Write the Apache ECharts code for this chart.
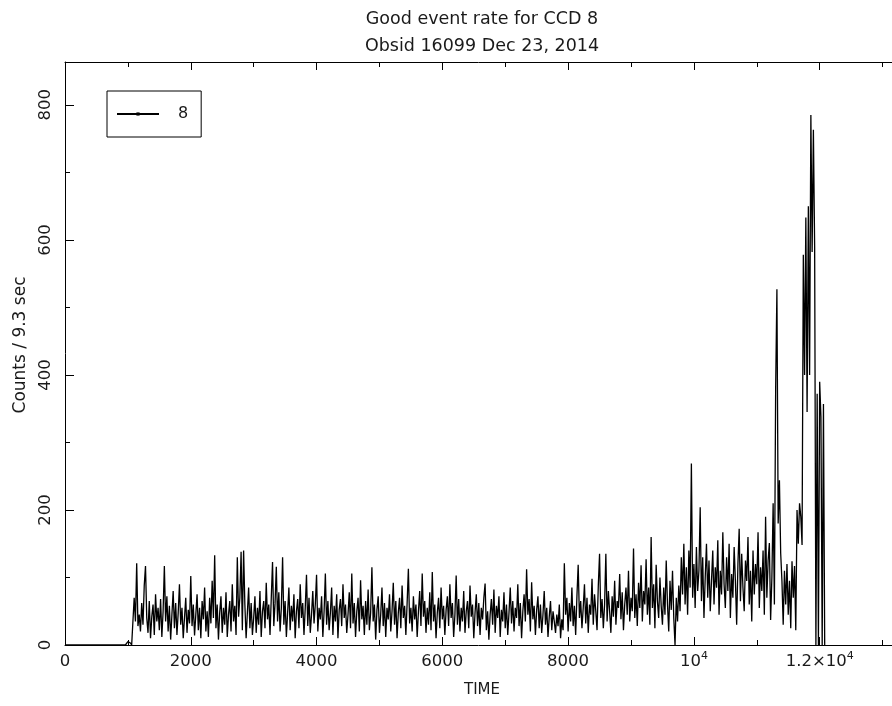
<!DOCTYPE html>
<html><head><meta charset="utf-8">
<script src="https://cdn.jsdelivr.net/npm/echarts@6/dist/echarts.min.js"></script>
<style>html,body{margin:0;padding:0;background:#fff}#c{width:892px;height:706px}</style>
</head><body><div id="c"></div>
<script>
// ---- data ----
const titleLines = ['Good event rate for CCD 8', 'Obsid 16099 Dec 23, 2014'];
const xName = 'TIME';
const yName = 'Counts / 9.3 sec';
const seriesName = '8';
const timeStart = 0;
const binWidth = 20;
const counts = [
  0,0,0,0,0, 0,0,0,0,0, 0,0,0,0,0, 0,0,0,0,0, 0,0,0,0,0,
  0,0,0,0,0, 0,0,0,0,0, 0,0,0,0,0, 0,0,0,0,0, 0,0,0,0,0,
  5,5,3,0,0, 70,35,121,28,45, 20,62,30,88,117, 40,18,65,10,42, 60,15,75,35,55,
  22,68,12,50,117, 35,72,20,58,8, 45,80,25,62,15, 48,90,30,55,10, 40,70,18,52,32,
  102,28,60,14,45, 75,22,55,10,65, 38,85,20,50,12, 70,32,95,40,133, 25,60,8,48,72,
  18,55,30,78,12, 45,65,20,90,35, 58,15,130,42,70, 138,22,140,60,10, 48,85,25,62,15,
  40,72,18,55,30, 80,12,50,65,25, 92,38,60,15,70, 123,28,62,116,35, 78,20,55,130,30,
  65,12,48,85,22, 58,35,75,10,50, 68,25,90,40,62, 15,55,104,28,70, 18,45,80,32,60,
  104,20,55,38,72, 12,50,106,30,65, 22,48,85,15,58, 35,75,10,52,68, 28,90,40,60,18,
  45,78,25,106,32, 62,12,50,70,20, 96,38,58,15,65, 30,82,22,48,115, 35,60,8,52,72,
  18,45,85,28,62, 12,55,38,75,20, 50,92,30,65,10, 48,70,25,88,40, 58,15,62,113,32,
  55,20,72,38,60, 12,50,80,28,106, 42,65,18,55,30, 78,22,108,35,60, 10,48,70,25,85,
  38,58,15,52,72, 28,90,40,62,12, 45,103,30,68,20, 55,35,80,18,50, 65,25,88,42,60,
  10,48,75,28,62, 15,55,38,70,91, 22,50,8,45,68, 30,82,18,58,40, 72,12,52,35,78,
  25,60,15,48,85, 32,65,20,55,40, 90,28,62,10,50, 75,35,112,45,68, 20,93,38,58,15,
  52,72,25,60,18, 45,80,30,55,12, 42,65,22,50,35, 18,45,28,60,10, 38,22,121,45,70,
  20,62,35,85,28, 58,15,72,119,40, 65,25,55,90,32, 70,18,60,45,98, 30,75,50,22,88,
  135,40,68,25,60, 135,35,80,50,18, 72,42,95,30,65, 55,105,38,78,22, 60,85,45,110,35,
  70,50,143,40,75, 28,92,55,118,35, 80,60,127,45,85, 30,160,55,90,25, 119,65,40,100,58,
  30,85,45,125,60, 20,95,52,110,40, 0,70,35,88,50, 130,75,150,60,115, 45,140,85,269,70,
  120,55,145,80,110, 204,65,130,40,100, 150,70,125,50,95, 140,60,115,85,155, 45,110,75,167,90,
  55,130,80,150,40, 105,70,145,95,30, 120,172,65,135,85, 50,125,95,160,60, 110,35,140,75,120,
  90,167,55,115,80, 140,45,190,70,125, 151,37,100,210,60, 380,527,180,244,136, 95,30,110,60,120,
  45,95,25,124,70, 117,22,200,150,210, 190,148,578,400,633, 345,650,400,785,582, 763,590,0,372,0,
  390,338,0,357,0
];
const xMin = 0, xMax = 13150, xMajor = 2000, xMinor = 1000;
const yMin = 0, yMax = 863.5, yMajor = 200, yMinor = 100;
const xTickValues = [0, 2000, 4000, 6000, 8000, 10000, 12000];
const xTickLabels = ['0', '2000', '4000', '6000', '8000', '10^4', '1.2×10^4'];
const yTickValues = [0, 200, 400, 600, 800];
const yTickLabels = ['0', '200', '400', '600', '800'];

// ---- chart ----
const FONT = 'DejaVu Sans';
const INK = '#000';
const TXT = '#1a1a1a';
const data = counts.map((v, i) => [timeStart + i * binWidth, v]);

function xLabel(v) {
  const k = xTickValues.indexOf(v);
  if (k < 0) return '';
  const parts = xTickLabels[k].split('^');
  return parts.length > 1 ? '{b|' + parts[0] + '}{s|' + parts[1] + '}' : '{b|' + parts[0] + '}';
}
function yLabel(v) {
  const k = yTickValues.indexOf(v);
  return k < 0 ? '' : yTickLabels[k];
}
function xAxisDef(pos, interval, tickLen, withLine, withLabels) {
  return {
    type: 'value', position: pos, min: xMin, max: xMax, interval: interval,
    axisLine: { show: withLine, onZero: false, lineStyle: { color: INK, width: 1 } },
    axisTick: { show: true, inside: true, length: tickLen, lineStyle: { color: INK, width: 1 } },
    axisLabel: withLabels ? {
      show: true, margin: 6, showMaxLabel: false, formatter: xLabel,
      rich: {
        b: { fontSize: 16.5, fontFamily: FONT, color: TXT, lineHeight: 22 },
        s: { fontSize: 11, fontFamily: FONT, color: TXT, lineHeight: 8, verticalAlign: 'top' }
      }
    } : { show: false },
    splitLine: { show: false }, minorTick: { show: false }
  };
}
function yAxisDef(pos, interval, tickLen, withLine, withLabels) {
  return {
    type: 'value', position: pos, min: yMin, max: yMax, interval: interval,
    axisLine: { show: withLine, onZero: false, lineStyle: { color: INK, width: 1 } },
    axisTick: { show: true, inside: true, length: tickLen, lineStyle: { color: INK, width: 1 } },
    axisLabel: withLabels ? {
      show: true, rotate: 90, margin: 11, showMaxLabel: false, formatter: yLabel,
      fontSize: 16.5, fontFamily: FONT, color: TXT
    } : { show: false },
    splitLine: { show: false }, minorTick: { show: false }
  };
}

const chart = echarts.init(document.getElementById('c'), null, { renderer: 'canvas' });
chart.setOption({
  animation: false,
  backgroundColor: '#fff',
  grid: { left: 65, top: 62, right: 0, bottom: 61, containLabel: false },
  xAxis: [
    xAxisDef('bottom', xMajor, 8, true, true),
    xAxisDef('bottom', xMinor, 5, false, false),
    xAxisDef('top', xMajor, 8, true, false),
    xAxisDef('top', xMinor, 5, false, false)
  ],
  yAxis: [
    yAxisDef('left', yMajor, 9, true, true),
    yAxisDef('left', yMinor, 5, false, false)
  ],
  legend: {
    data: [seriesName], left: 107, top: 91, orient: 'horizontal',
    padding: [14, 13, 14, 9], itemWidth: 42, itemHeight: 4,
    borderColor: INK, borderWidth: 1, borderRadius: 0,
    textStyle: { fontSize: 16, fontFamily: FONT, color: TXT, lineHeight: 18, padding: [0, 0, 0, 14] }
  },
  graphic: [
    { type: 'text', x: 482, y: 19.5, style: { text: titleLines[0], align: 'center', verticalAlign: 'middle', font: '17.5px "' + FONT + '"', fill: TXT } },
    { type: 'text', x: 482, y: 46.5, style: { text: titleLines[1], align: 'center', verticalAlign: 'middle', font: '17.5px "' + FONT + '"', fill: TXT } },
    { type: 'text', x: 482, y: 690, style: { text: xName, align: 'center', verticalAlign: 'middle', font: '15px "' + FONT + '"', fill: TXT } },
    { type: 'text', x: 21, y: 345, rotation: Math.PI / 2, style: { text: yName, align: 'center', verticalAlign: 'middle', font: '17px "' + FONT + '"', fill: TXT } }
  ],
  series: [{
    name: seriesName, type: 'line', xAxisIndex: 0, yAxisIndex: 0,
    data: data, showSymbol: false, symbol: 'rect', symbolSize: 2,
    lineStyle: { color: INK, width: 1.3 }, itemStyle: { color: INK },
    emphasis: { disabled: true }
  }]
});
</script></body></html>
